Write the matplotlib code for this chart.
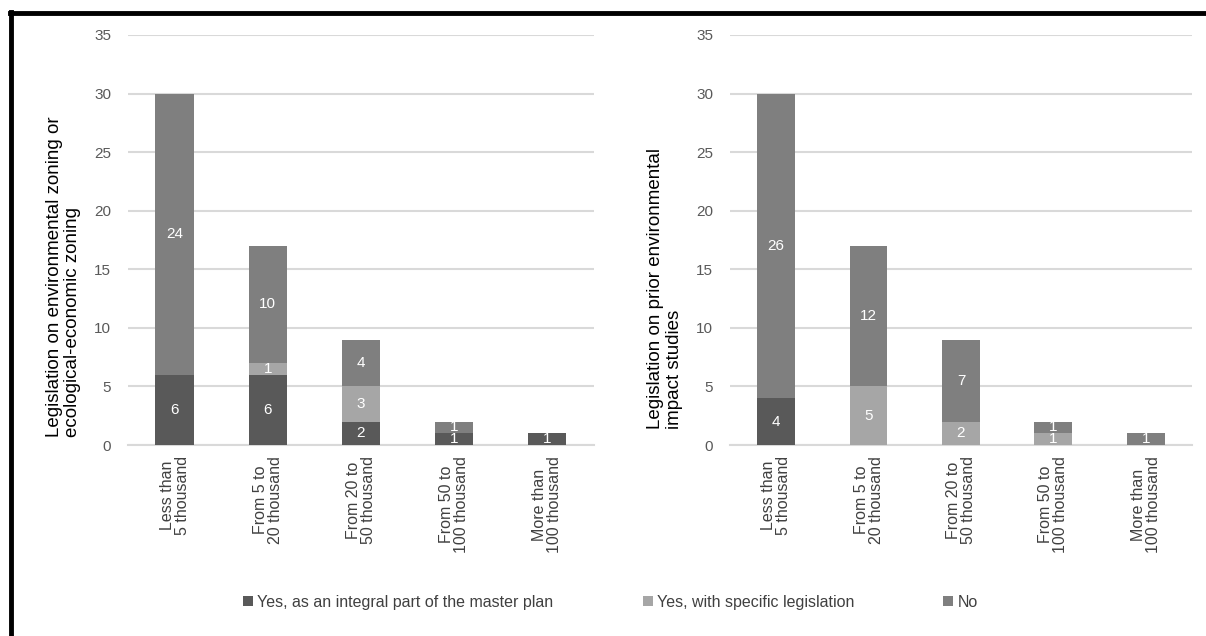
import matplotlib.pyplot as plt
import numpy as np

plt.rcParams['font.family'] = ['Liberation Sans', 'DejaVu Sans']

categories = ["Less than\n5 thousand", "From 5 to\n20 thousand", "From 20 to\n50 thousand",
              "From 50 to\n100 thousand", "More than\n100 thousand"]
series_names = ["Yes, as an integral part of the master plan", "Yes, with specific legislation", "No"]

# zoning legislation
zoning_master = [6, 6, 2, 1, 1]
zoning_specific = [0, 1, 3, 0, 0]
zoning_no = [24, 10, 4, 1, 0]

# prior impact study legislation
impact_master = [4, 0, 0, 0, 0]
impact_specific = [0, 5, 2, 1, 0]
impact_no = [26, 12, 7, 1, 1]

colors = ["#595959", "#a6a6a6", "#7f7f7f"]

fig = plt.figure(figsize=(12.06, 6.36), dpi=100)
ax1 = fig.add_axes((0.1061, 0.3003, 0.3864, 0.6447))
ax2 = fig.add_axes((0.6053, 0.3003, 0.3830, 0.6447))


def draw(ax, stacks, ylabel, lab_x, lab_y):
    x = np.arange(len(categories))
    bottom = np.zeros(len(categories))
    bars = []
    for vals, c, name in zip(stacks, colors, series_names):
        vals = np.array(vals, dtype=float)
        b = ax.bar(x, vals, 0.41, bottom=bottom, color=c, label=name, zorder=3)
        bars.append(b)
        for xi, v, b0 in zip(x, vals, bottom):
            if v > 0:
                ax.text(xi, b0 + v / 2, str(int(v)), ha="center", va="center",
                        color="white", fontsize=11, zorder=4)
        bottom += vals
    ax.set_xlim(-0.5, 4.5)
    ax.set_ylim(0, 35)
    ax.set_yticks(range(0, 36, 5))
    ax.yaxis.grid(True, color="#d9d9d9", linewidth=1.5, zorder=0)
    ax.set_axisbelow(True)
    for s in ["top", "right", "left"]:
        ax.spines[s].set_visible(False)
    ax.spines["bottom"].set_color("#d9d9d9")
    ax.spines["bottom"].set_linewidth(1.5)
    ax.tick_params(axis="both", length=0, colors="#595959", labelsize=11)
    ax.tick_params(axis="y", pad=12)
    ax.tick_params(axis="x", pad=8)
    ax.set_xticks(x)
    ax.set_xticklabels(categories, rotation=90, va="top", ha="center",
                       fontsize=11.5, color="#404040", linespacing=1.0)
    ax.text(lab_x, lab_y, ylabel, transform=ax.transAxes, rotation=90,
            rotation_mode="anchor", ha="left", va="center", multialignment="left",
            fontsize=13.5, color="black", linespacing=1.1)
    return bars


bars = draw(ax1, [zoning_master, zoning_specific, zoning_no],
            "Legislation on environmental zoning or\necological-economic zoning", -0.139, 0.02)
draw(ax2, [impact_master, impact_specific, impact_no],
     "Legislation on prior environmental\nimpact studies", -0.141, 0.04)

# legend entries laid out along the bottom
for b, name, xpx in zip(bars, series_names, [243, 643, 943]):
    fig.legend(handles=[b], labels=[name], loc="center left",
               bbox_to_anchor=(xpx / 1206, 0.053), frameon=False, fontsize=11.5,
               handlelength=0.6, handleheight=0.6, handletextpad=0.3,
               borderpad=0, borderaxespad=0, labelcolor="#404040")

# frame lines along the top and left edges
fig.add_artist(plt.Line2D([0.0085, 1.0], [0.9795, 0.9795], color="black", linewidth=3.5,
                          transform=fig.transFigure))
fig.add_artist(plt.Line2D([0.0093, 0.0093], [0.0, 0.981], color="black", linewidth=3.5,
                          transform=fig.transFigure))

fig.savefig("out.png", dpi=100)
